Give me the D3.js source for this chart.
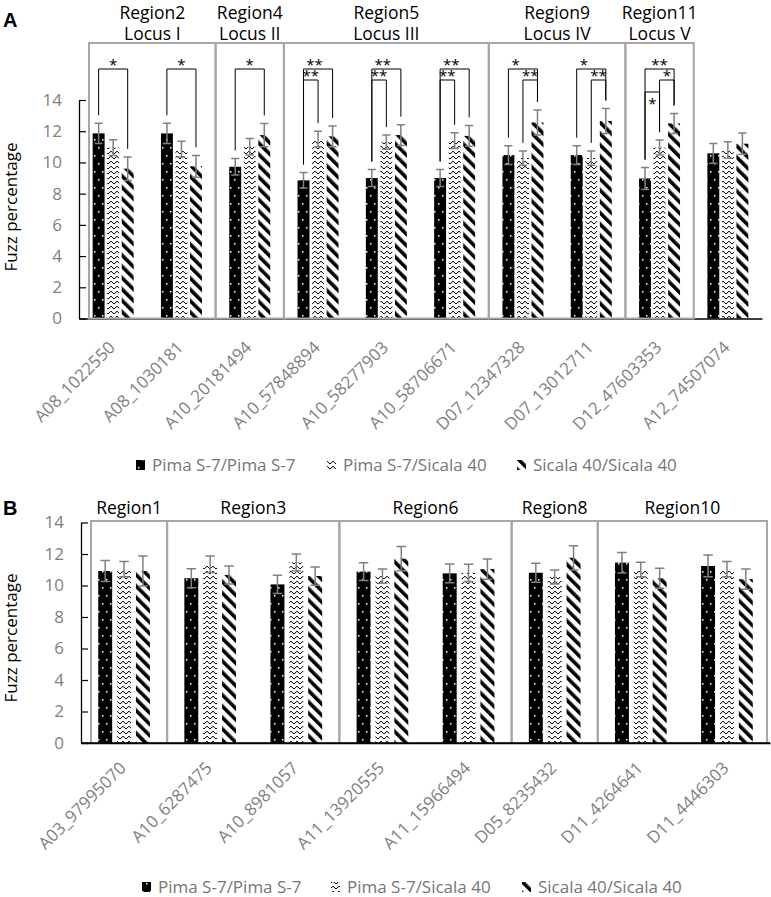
<!DOCTYPE html>
<html><head><meta charset="utf-8">
<script src="https://cdn.jsdelivr.net/npm/d3@7"></script>
<style>body{margin:0;background:#fff}svg{display:block}</style>
</head><body>
<svg id="chart" width="771" height="897"></svg>
<script>
// ---------- data ----------
const seriesNames = ["Pima S-7/Pima S-7", "Pima S-7/Sicala 40", "Sicala 40/Sicala 40"];
const yTicks = [0, 2, 4, 6, 8, 10, 12, 14];

// Panel A
const markersA = ["A08_1022550","A08_1030181","A10_20181494","A10_57848894","A10_58277903","A10_58706671","D07_12347328","D07_13012711","D12_47603353","A12_74507074"];
const pimaA      = [11.86, 11.86, 9.72, 8.86, 9.00, 9.00, 10.47, 10.47, 8.97, 10.58];
const pimaErrA   = [0.65, 0.65, 0.53, 0.50, 0.55, 0.55, 0.60, 0.60, 0.70, 0.64];
const hetA       = [10.95, 10.85, 11.00, 11.50, 11.30, 11.40, 10.28, 10.28, 10.95, 10.79];
const hetErrA    = [0.50, 0.50, 0.53, 0.50, 0.45, 0.50, 0.46, 0.46, 0.48, 0.53];
const sicalaA    = [9.60, 9.75, 11.75, 11.67, 11.75, 11.70, 12.56, 12.66, 12.50, 11.20];
const sicalaErrA = [0.75, 0.70, 0.75, 0.66, 0.67, 0.67, 0.80, 0.80, 0.64, 0.68];
const regionNamesA = ["Region2", "Region4", "Region5", "Region9", "Region11"];
const lociA        = ["Locus I", "Locus II", "Locus III", "Locus IV", "Locus V"];
const regionFirstA = [0, 2, 3, 6, 8];
const regionLastA  = [1, 2, 5, 7, 8];
// significance brackets (category, from series, to series, text, nesting level, label placement)
const sigCatA   = [0, 1, 2, 3, 3, 4, 4, 5, 5, 6, 6, 7, 7, 8, 8, 8];
const sigFromA  = [0, 0, 0, 0, 0, 0, 0, 0, 0, 0, 1, 0, 1, 0, 1, 0];
const sigToA    = [2, 2, 2, 2, 1, 2, 1, 2, 1, 2, 2, 2, 2, 2, 2, 1];
const sigTextA  = ["*","*","*","**","**","**","**","**","**","*","**","*","**","**","*","*"];
const sigLevelA = [0, 0, 0, 0, 1, 0, 1, 0, 1, 0, 1, 0, 1, 0, 1, 2];
const sigPlaceA = ["mid","mid","mid","inner","mid","inner","mid","inner","mid","left","mid","left","mid","mid","mid","below"];

// Panel B
const markersB = ["A03_97995070","A10_6287475","A10_8981057","A11_13920555","A11_15966494","D05_8235432","D11_4264641","D11_4446303"];
const pimaB      = [10.92, 10.46, 10.07, 10.88, 10.77, 10.81, 11.45, 11.24];
const pimaErrB   = [0.67, 0.60, 0.58, 0.56, 0.60, 0.60, 0.65, 0.69];
const hetB       = [11.04, 11.35, 11.47, 10.60, 10.80, 10.54, 11.02, 11.04];
const hetErrB    = [0.48, 0.53, 0.53, 0.45, 0.55, 0.44, 0.46, 0.48];
const sicalaB    = [10.92, 10.67, 10.60, 11.70, 11.04, 11.76, 10.46, 10.40];
const sicalaErrB = [0.95, 0.57, 0.58, 0.77, 0.64, 0.77, 0.63, 0.64];
const regionNamesB = ["Region1", "Region3", "Region6", "Region8", "Region10"];
const regionFirstB = [0, 1, 3, 5, 6];
const regionLastB  = [0, 2, 4, 5, 7];

// ---------- drawing ----------
const FONT = "'Open Sans', sans-serif";
const svg = d3.select("#chart").style("font-family", FONT);
const defs = svg.append("defs");

// pattern 0: black with white dots
const p0 = defs.append("pattern").attr("id", "pat0").attr("patternUnits", "userSpaceOnUse")
  .attr("width", 8).attr("height", 16);
p0.append("rect").attr("width", 8).attr("height", 16).attr("fill", "#000");
p0.append("rect").attr("x", 2).attr("y", 3).attr("width", 1.5).attr("height", 1.5).attr("fill", "#fff");
p0.append("rect").attr("x", 6).attr("y", 11).attr("width", 1.5).attr("height", 1.5).attr("fill", "#fff");
// pattern 1: wave
const p1 = defs.append("pattern").attr("id", "pat1").attr("patternUnits", "userSpaceOnUse")
  .attr("width", 6).attr("height", 5);
p1.append("rect").attr("width", 6).attr("height", 5).attr("fill", "#fff");
p1.append("path").attr("d", "M0,4 L3,1.2 L6,4").attr("fill", "none").attr("stroke", "#000").attr("stroke-width", 1);
// pattern 2: wide downward diagonal
const p2 = defs.append("pattern").attr("id", "pat2").attr("patternUnits", "userSpaceOnUse")
  .attr("width", 8).attr("height", 8).attr("patternTransform", "rotate(-45)");
p2.append("rect").attr("width", 8).attr("height", 8).attr("fill", "#fff");
p2.append("rect").attr("width", 3.6).attr("height", 8).attr("fill", "#000");

const patIds = ["url(#pat0)", "url(#pat1)", "url(#pat2)"];
const GRAY_TXT = "#7f7f7f";
const BOX = "#a6a6a6";

function drawPanel(cfg) {
  const g = svg.append("g");
  const n = cfg.markers.length;
  const x = d3.scaleBand().domain(cfg.markers).range(cfg.xRange).paddingInner(0.4).paddingOuter(0.2);
  const xs = d3.scaleBand().domain([0, 1, 2]).range([0, x.bandwidth()]).paddingInner(cfg.subPad);
  const y = d3.scaleLinear().domain([0, 14]).range([cfg.yBase, cfg.yTop]);
  const series = [cfg.pima, cfg.het, cfg.sicala];
  const errs = [cfg.pimaErr, cfg.hetErr, cfg.sicalaErr];
  const boundary = i => cfg.xRange[0] + i * x.step();
  const cx = (i, s) => x(cfg.markers[i]) + xs(s) + xs.bandwidth() / 2;

  // bars
  series.forEach((vals, s) => {
    g.append("g").selectAll("rect").data(vals).join("rect")
      .attr("x", (d, i) => x(cfg.markers[i]) + xs(s))
      .attr("y", d => y(d))
      .attr("width", xs.bandwidth())
      .attr("height", d => y(0) - y(d))
      .attr("fill", patIds[s]);
  });
  // error bars
  const cap = xs.bandwidth() * 0.34;
  series.forEach((vals, s) => {
    const eg = g.append("g").attr("stroke", "#808080").attr("stroke-width", 1.5).attr("fill", "none");
    vals.forEach((v, i) => {
      const c = cx(i, s), e = errs[s][i];
      eg.append("path").attr("d",
        `M${c},${y(v - e)}V${y(v + e)}M${c - cap},${y(v + e)}H${c + cap}M${c - cap},${y(v - e)}H${c + cap}`);
    });
  });

  // y axis
  const ya = g.append("g").attr("transform", `translate(${cfg.xRange[0]},0)`)
    .call(d3.axisLeft(y).tickValues(yTicks).tickSizeInner(-7).tickSizeOuter(0).tickPadding(17));
  ya.select(".domain").attr("stroke", "#000").attr("stroke-width", 1.3);
  ya.selectAll(".tick line").attr("stroke", "#000").attr("stroke-width", 1.2);
  ya.selectAll(".tick text").attr("fill", GRAY_TXT).style("font-size", "17px").style("font-family", FONT);

  // x axis
  const xa = g.append("g").attr("transform", `translate(0,${cfg.yBase})`)
    .call(d3.axisBottom(x).tickSize(0).tickSizeOuter(0));
  xa.select(".domain").attr("stroke", "#000").attr("stroke-width", 1.5);
  xa.selectAll(".tick text").attr("x", 0).attr("y", 0).attr("dy", 0)
    .attr("transform", `translate(3,${cfg.labelDrop}) rotate(-45)`)
    .style("text-anchor", "end").attr("fill", GRAY_TXT)
    .style("font-size", "17px").style("font-family", FONT);

  // region boxes
  const bg = g.append("g").attr("fill", "none").attr("stroke", BOX).attr("stroke-width", 2);
  cfg.regionNames.forEach((name, r) => {
    const left = r === 0 ? cfg.xRange[0] + 10 : boundary(cfg.regionFirst[r]);
    const right = cfg.regionLast[r] === n - 1 ? cfg.xRange[1] - cfg.rightInset : boundary(cfg.regionLast[r] + 1);
    const bottom = cfg.yBase;
    if (cfg.bottomEdge) {
      bg.append("rect").attr("x", left).attr("y", cfg.boxTop).attr("width", right - left).attr("height", bottom - cfg.boxTop);
    } else {
      bg.append("path").attr("d", `M${left},${bottom}V${cfg.boxTop}H${right}V${bottom}`);
    }
    const mid = (left + right) / 2;
    g.append("text").attr("x", mid).attr("y", cfg.regionY[0]).attr("text-anchor", "middle")
      .style("font-size", "17.5px").attr("fill", "#000").text(name);
    if (cfg.loci) {
      g.append("text").attr("x", mid).attr("y", cfg.regionY[1]).attr("text-anchor", "middle")
        .style("font-size", "17.5px").attr("fill", "#000").text(cfg.loci[r]);
    }
  });
  if (!cfg.bottomEdge) {
    g.append("line").attr("x1", cfg.xRange[0]).attr("x2", cfg.xRange[1])
      .attr("y1", cfg.yBase).attr("y2", cfg.yBase).attr("stroke", "#000").attr("stroke-width", 1.5);
  }

  // significance brackets
  if (cfg.sigCat) {
    const sg = g.append("g");
    cfg.sigCat.forEach((c, k) => {
      const a = cfg.sigFrom[k], b = cfg.sigTo[k];
      const xa1 = cx(c, a), xb1 = cx(c, b);
      const ly = cfg.sigLevels[cfg.sigLevel[k]];
      const botA = y(series[a][c] + errs[a][c]) - 8;
      const botB = y(series[b][c] + errs[b][c]) - 8;
      sg.append("path").attr("d", `M${xa1},${botA}V${ly}H${xb1}V${botB}`)
        .attr("fill", "none").attr("stroke", "#000").attr("stroke-width", 1);
      let tx = (xa1 + xb1) / 2, ty = ly + 1;
      const place = cfg.sigPlace[k];
      if (place === "left") tx = xa1 + 0.25 * (xb1 - xa1);
      if (place === "inner") tx = xa1 + 0.38 * (xb1 - xa1);
      if (place === "below") ty = ly + 17;
      sg.append("text").attr("x", tx).attr("y", ty).attr("text-anchor", "middle")
        .style("font-size", "15px").attr("fill", "#000").text(cfg.sigText[k]);
    });
  }

  // y title
  g.append("text").attr("transform", `translate(17,${cfg.yTitleY}) rotate(-90)`)
    .attr("text-anchor", "middle").style("font-size", "17px").attr("fill", "#000").text("Fuzz percentage");
  // panel letter
  g.append("text").attr("x", 3).attr("y", cfg.letterY).style("font-family", "'Liberation Sans', Arial, sans-serif")
    .style("font-weight", "bold").style("font-size", "20px").attr("fill", "#000").text(cfg.letter);

  // legend
  seriesNames.forEach((name, s) => {
    const lx = cfg.legendX[s];
    g.append("rect").attr("x", lx).attr("y", cfg.legendY - 5).attr("width", 9).attr("height", 10).attr("fill", patIds[s]);
    g.append("text").attr("x", lx + 16).attr("y", cfg.legendY + 6).style("font-size", "17px")
      .attr("fill", "#767676").text(name);
  });
}

drawPanel({
  letter: "A", letterY: 27,
  markers: markersA, pima: pimaA, het: hetA, sicala: sicalaA,
  pimaErr: pimaErrA, hetErr: hetErrA, sicalaErr: sicalaErrA,
  xRange: [79, 762], yBase: 318.5, yTop: 100, subPad: 0.18, labelDrop: 30,
  regionNames: regionNamesA, loci: lociA, regionFirst: regionFirstA, regionLast: regionLastA,
  boxTop: 43, regionY: [19, 40], rightInset: 0, bottomEdge: true,
  sigCat: sigCatA, sigFrom: sigFromA, sigTo: sigToA, sigText: sigTextA, sigLevel: sigLevelA, sigPlace: sigPlaceA,
  sigLevels: [69, 80, 92],
  yTitleY: 207, legendY: 465, legendX: [136, 327, 517]
});

drawPanel({
  letter: "B", letterY: 515,
  markers: markersB, pima: pimaB, het: hetB, sicala: sicalaB,
  pimaErr: pimaErrB, hetErr: hetErrB, sicalaErr: sicalaErrB,
  xRange: [81, 770], yBase: 743, yTop: 522.5, subPad: 0.26, labelDrop: 26,
  regionNames: regionNamesB, loci: null, regionFirst: regionFirstB, regionLast: regionLastB,
  boxTop: 521, regionY: [514], rightInset: 3, bottomEdge: false,
  yTitleY: 638, legendY: 887, legendX: [142, 331, 522]
});
</script>
</body></html>
